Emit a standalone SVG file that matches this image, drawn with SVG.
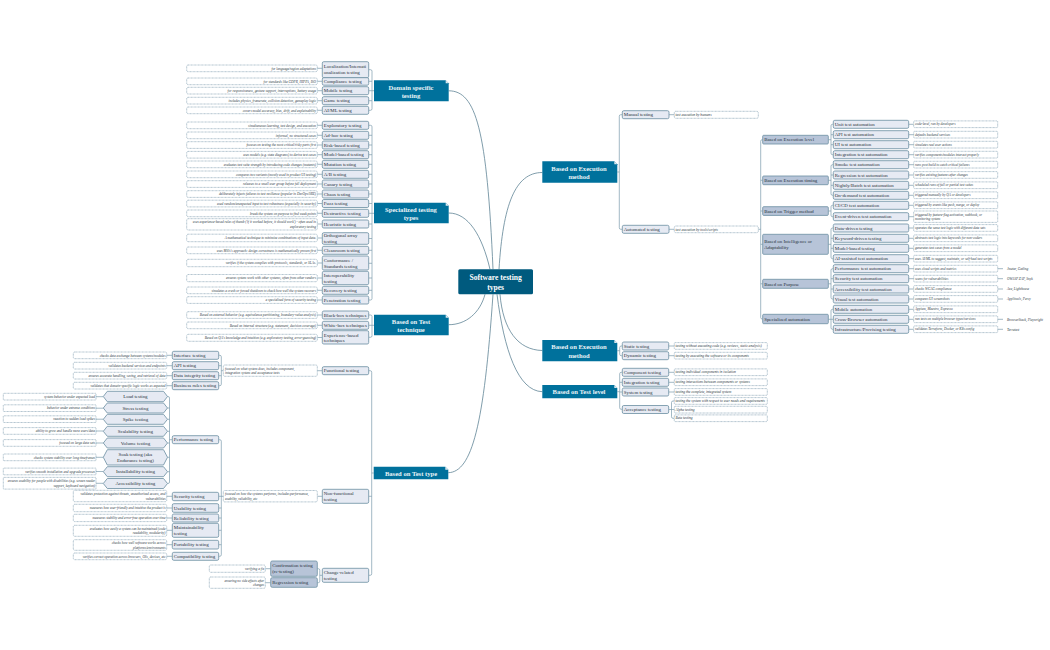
<svg xmlns="http://www.w3.org/2000/svg" width="1050" height="650" viewBox="0 0 1050 650">
<style>
text{font-family:"Liberation Serif","Times New Roman",serif;fill:#27323b}
.n{fill:#e6eaf3;stroke:#7393a7;stroke-width:.85}
.s{fill:#b7c4d8;stroke:#7393a7;stroke-width:.85}
.h{fill:#e6eaf3;stroke:#7393a7;stroke-width:.85}
.d{fill:#fff;stroke:#7393a7;stroke-width:.6;stroke-dasharray:.9 .5}
.t{font-size:4.9px}
.c{font-size:4.9px;text-anchor:middle}
.e{font-size:3.45px;font-style:italic;text-anchor:end;fill:#2d3943}
.l{font-size:3.45px;font-style:italic;fill:#2d3943}
.m{font-size:3.6px;font-style:italic;fill:#2d3943}
.o{fill:#00719c}
.f{fill:#dfeaf0}
.a{font-size:6.6px;font-weight:bold;text-anchor:middle;fill:#e8f3f7}
.r{font-size:7.6px;font-weight:bold;text-anchor:middle;fill:#fff}
#connectors path{fill:none;stroke:#7b9bac;stroke-width:.7}
#connectors .k{stroke:#5f8496;stroke-width:.8}
</style>
<g id="connectors">
<path class="k" d="M448.7 90.8C476 90.8 487 130 493 269.3"/>
<path class="k" d="M448.7 213C468 213 482 235 490 269.3"/>
<path class="k" d="M542.3 172.5C515 172.5 503 205 499 269.3"/>
<path class="k" d="M448.7 324.7C466 324.7 480 313 485 294.3"/>
<path class="k" d="M448.3 472.7C472 472 484 425 493 294.3"/>
<path class="k" d="M542.3 350.5C518 350 503 330 500 294.3"/>
<path class="k" d="M542.3 391.7C518 391 504 350 497 294.3"/>
<path d="M368.7 69.7H370.5Q372 69.7 372 71.2V108.8Q372 110.3 370.5 110.3H368.7M368.7 81.3H372M368.7 90.7H374M368.7 100.7H372"/>
<path d="M368.7 125.3H370.5Q372 125.3 372 126.8V298.5Q372 300 370.5 300H368.7M368.7 135.3H372M368.7 145H372M368.7 154.7H372M368.7 164.3H372M368.7 174.3H372M368.7 184H372M368.7 194H372M368.7 203.5H372M368.7 213.3H374M368.7 224H372M368.7 238.5H372M368.7 250.3H372M368.7 263.3H372M368.7 278H372M368.7 290.3H372"/>
<path d="M368.7 315H370.5Q372 315 372 316.5V335.8Q372 337.3 370.5 337.3H368.7M368.7 325.3H374"/>
<path d="M368.7 370.7H370.2Q371.7 370.7 371.7 372.2V573.8Q371.7 575.3 370.2 575.3H368.7M368.7 496.3H371.7M371.7 473H373.7"/>
<path d="M317.3 568.7H318.3Q319.8 568.7 319.8 570.2V581.2Q319.8 582.7 318.3 582.7H317.3M319.8 575.3H322.3"/>
<path d="M317.3 370.7H322.3M317.3 496.3H322.3M265.3 568.7H270.7M265.3 582.7H270.7"/>
<path d="M218.7 355.3H219.8Q221.3 355.3 221.3 356.8V384.2Q221.3 385.7 219.8 385.7H218.7M218.7 365.7H221.3M218.7 375.7H221.3M221.3 370.7H223.3"/>
<path d="M218.7 439.7H219.8Q221.3 439.7 221.3 441.2V554.8Q221.3 556.3 219.8 556.3H218.7M218.7 496.3H223.3M218.7 508H221.3M218.7 518H221.3M218.7 530.3H221.3M218.7 544.7H221.3"/>
<path d="M167.5 396.5H168Q169.5 396.5 169.5 398V482Q169.5 483.5 168 483.5H167.5M167.5 408H169.5M167.5 419.3H169.5M167.5 431.3H169.5M167.5 443H169.5M167.5 457.3H169.5M167.5 471.7H169.5M169.5 439.7H172.3"/>
<path d="M96 396.7H103.3M96 408.2H103.3M96 419.2H103.3M96 431H103.3M96 443H103.3M96 457.3H103.3M96 471.5H103.3M96 483.3H103.3"/>
<path d="M166.7 355.3H172.3M166.7 365.7H172.3M166.7 375.7H172.3M166.7 385.7H172.3M166.7 496.3H172.3M166.7 508H172.3M166.7 518H172.3M166.7 530.3H172.3M166.7 544.7H172.3M166.7 556.3H172.3"/>
<path d="M317.3 68.3H322.3M317.3 81.3H322.3M317.3 90.7H322.3M317.3 100.7H322.3M317.3 110.3H322.3M317.3 125.3H322.3M317.3 135.3H322.3M317.3 145H322.3M317.3 154.7H322.3M317.3 164.3H322.3M317.3 174.3H322.3M317.3 184H322.3M317.3 194H322.3M317.3 203.5H322.3M317.3 213.3H322.3M317.3 224H322.3M317.3 238H322.3M317.3 250.3H322.3M317.3 263H322.3M317.3 278H322.3M317.3 290.3H322.3M317.3 300H322.3M317.3 315H322.3M317.3 325.3H322.3M317.3 337.5H322.3"/>
<path d="M622.3 114.7H620.8Q619.3 114.7 619.3 116.2V227.8Q619.3 229.3 620.8 229.3H622.3M617.3 172H619.3M669 114.7H674.3M669 229.3H674.3"/>
<path d="M762.7 139.7H762.2Q760.7 139.7 760.7 141.2V317.5Q760.7 319 762.2 319H762.7M758.3 229.3H760.7M760.7 180.3H762.7M760.7 211H762.7M760.7 244.3H762.7M760.7 283.8H762.7"/>
<path d="M833.3 124.3H832.5Q831 124.3 831 125.8V153.2Q831 154.7 832.5 154.7H833.3M828.3 139.7H831M831 134.7H833.3M831 144.7H833.3"/>
<path d="M833.3 164.7H832.5Q831 164.7 831 166.2V193.8Q831 195.3 832.5 195.3H833.3M828.3 180.3H831M831 175H833.3M831 185.3H833.3"/>
<path d="M833.3 205.3H832.5Q831 205.3 831 206.8V215.2Q831 216.7 832.5 216.7H833.3M828.3 211H831"/>
<path d="M833.3 228H832.5Q831 228 831 229.5V257.2Q831 258.7 832.5 258.7H833.3M828.3 244.3H831M831 238.3H833.3M831 248.3H833.3"/>
<path d="M833.3 268.7H832.5Q831 268.7 831 270.2V297.5Q831 299 832.5 299H833.3M828.3 283.8H831M831 278.7H833.3M831 289H833.3"/>
<path d="M833.3 309.3H832.5Q831 309.3 831 310.8V327.8Q831 329.3 832.5 329.3H833.3M828.3 319.3H833.3"/>
<path d="M908.7 124.3H913.7M908.7 134.7H913.7M908.7 144.7H913.7M908.7 154.7H913.7M908.7 164.7H913.7M908.7 175H913.7M908.7 185.3H913.7M908.7 195.3H913.7M908.7 205.3H913.7M908.7 216.7H913.7M908.7 228H913.7M908.7 238.3H913.7M908.7 248.3H913.7M908.7 258.7H913.7M908.7 268.7H913.7M908.7 278.7H913.7M908.7 289H913.7M908.7 299H913.7M908.7 309.3H913.7M908.7 319.3H913.7M908.7 329.3H913.7"/>
<path d="M997.7 268.7H1003M997.7 278.7H1003M997.7 289H1003M997.7 299H1003M997.7 319.3H1003M997.7 329.3H1003"/>
<path d="M622.3 346H621.2Q619.7 346 619.7 347.5V354.2Q619.7 355.7 621.2 355.7H622.3M617.3 350.7H619.7"/>
<path d="M622.3 372.3H621.2Q619.7 372.3 619.7 373.8V407.8Q619.7 409.3 621.2 409.3H622.3M617.3 391.7H619.7M619.7 382.3H622.3M619.7 392H622.3"/>
<path d="M668.7 346H674.3M668.7 355.7H674.3M668.7 372.3H674.3M668.7 382.3H674.3M668.7 392H674.3"/>
<path d="M674.3 401H673Q671.5 401 671.5 402.5V416.8Q671.5 418.3 673 418.3H674.3M668.7 409.5H674.3"/>
</g>

<g id="root"><rect x="458.3" y="269.3" width="74.7" height="25" rx="1.5" fill="#005a7e"/><text class="r" x="495.6" y="280">Software testing</text><text class="r" x="495.6" y="289.5">types</text></g>

<g id="t-domain"><path class="o" d="M374 80.3H445.7L448.7 83.3V101.3H374Z"/><path class="f" d="M445.7 80.3L448.7 83.3H445.7Z"/><text class="a" x="411" y="89.5">Domain specific</text><text class="a" x="411" y="98">testing</text></g>
<g id="t-specialized"><path class="o" d="M374 202.7H445.7L448.7 205.7V223.3H374Z"/><path class="f" d="M445.7 202.7L448.7 205.7H445.7Z"/><text class="a" x="411" y="211.5">Specialized testing</text><text class="a" x="411" y="220">types</text></g>
<g id="t-technique"><path class="o" d="M374 314.7H445.7L448.7 317.7V335.3H374Z"/><path class="f" d="M445.7 314.7L448.7 317.7H445.7Z"/><text class="a" x="411" y="323.5">Based on Test</text><text class="a" x="411" y="332">technique</text></g>
<g id="t-type"><path class="o" d="M373.7 466.7H445.3L448.3 469.7V479.3H373.7Z"/><path class="f" d="M445.3 466.7L448.3 469.7H445.3Z"/><text class="a" x="411" y="475.5">Based on Test type</text></g>
<g id="t-exec1"><path class="o" d="M542.3 161.3H614.3L617.3 164.3V182.7H542.3Z"/><path class="f" d="M614.3 161.3L617.3 164.3H614.3Z"/><text class="a" x="579" y="170.5">Based on Execution</text><text class="a" x="579" y="179">method</text></g>
<g id="t-exec2"><path class="o" d="M542.3 340H614.3L617.3 343V361.3H542.3Z"/><path class="f" d="M614.3 340L617.3 343H614.3Z"/><text class="a" x="579" y="349">Based on Execution</text><text class="a" x="579" y="357.5">method</text></g>
<g id="t-level"><path class="o" d="M542.3 385H614.3L617.3 388V398.3H542.3Z"/><path class="f" d="M614.3 385L617.3 388H614.3Z"/><text class="a" x="579" y="394">Based on Test level</text></g>

<g id="domain-nodes">
<g id="n1"><rect class="n" x="322.3" y="61.7" width="46.4" height="16" rx="1.5"/><text class="t" x="323.8" y="67.5">Localization/Internati</text><text class="t" x="323.8" y="73.8">onalization testing</text><rect class="d" x="186.7" y="65" width="130.6" height="6.7" rx="1.5"/><text class="e" x="316" y="69.5">for language/region adaptations</text></g>
<g id="n2"><rect class="n" x="322.3" y="77.7" width="46.4" height="7.5" rx="1.5"/><text class="t" x="323.8" y="83">Compliance testing</text><rect class="d" x="186.7" y="78" width="130.6" height="6.7" rx="1.5"/><text class="e" x="316" y="82.5">for standards like GDPR, HIPPA, ISO</text></g>
<g id="n3"><rect class="n" x="322.3" y="86.7" width="46.4" height="8" rx="1.5"/><text class="t" x="323.8" y="92.4">Mobile testing</text><rect class="d" x="186.7" y="87.3" width="130.6" height="6.7" rx="1.5"/><text class="e" x="316" y="91.8">for responsiveness, gesture support, interruptions, battery usage</text></g>
<g id="n4"><rect class="n" x="322.3" y="96.7" width="46.4" height="8" rx="1.5"/><text class="t" x="323.8" y="102.4">Game testing</text><rect class="d" x="186.7" y="97.3" width="130.6" height="6.7" rx="1.5"/><text class="e" x="316" y="101.8">includes physics, framerate, collision detection, gameplay logic</text></g>
<g id="n5"><rect class="n" x="322.3" y="106.3" width="46.4" height="8" rx="1.5"/><text class="t" x="323.8" y="112">AI/ML testing</text><rect class="d" x="186.7" y="107" width="130.6" height="6.7" rx="1.5"/><text class="e" x="316" y="111.5">covers model accuracy, bias, drift, and explainability</text></g>
</g>

<g id="specialized-nodes">
<g id="n6"><rect class="n" x="322.3" y="121.3" width="46.4" height="8" rx="1.5"/><text class="t" x="323.8" y="127">Exploratory testing</text><rect class="d" x="186.7" y="122" width="130.6" height="6.7" rx="1.5"/><text class="e" x="316" y="126.5">simultaneous learning, test design, and execution</text></g>
<g id="n7"><rect class="n" x="322.3" y="131.3" width="46.4" height="8" rx="1.5"/><text class="t" x="323.8" y="137">Ad-hoc testing</text><rect class="d" x="186.7" y="132" width="130.6" height="6.7" rx="1.5"/><text class="e" x="316" y="136.5">informal, no structured cases</text></g>
<g id="n8"><rect class="n" x="322.3" y="141" width="46.4" height="8" rx="1.5"/><text class="t" x="323.8" y="146.7">Risk-based testing</text><rect class="d" x="186.7" y="141.7" width="130.6" height="6.7" rx="1.5"/><text class="e" x="316" y="146.2">focuses on testing the most critical/risky parts first</text></g>
<g id="n9"><rect class="n" x="322.3" y="150.7" width="46.4" height="8" rx="1.5"/><text class="t" x="323.8" y="156.4">Model-based testing</text><rect class="d" x="186.7" y="151.4" width="130.6" height="6.7" rx="1.5"/><text class="e" x="316" y="155.9">uses models (e.g. state diagrams) to derive test cases</text></g>
<g id="n10"><rect class="n" x="322.3" y="160.3" width="46.4" height="8" rx="1.5"/><text class="t" x="323.8" y="166">Mutation testing</text><rect class="d" x="186.7" y="161" width="130.6" height="6.7" rx="1.5"/><text class="e" x="316" y="165.5">evaluates test suite strength by introducing code changes (mutants)</text></g>
<g id="n11"><rect class="n" x="322.3" y="170.3" width="46.4" height="8" rx="1.5"/><text class="t" x="323.8" y="176">A/B testing</text><rect class="d" x="186.7" y="171" width="130.6" height="6.7" rx="1.5"/><text class="e" x="316" y="175.5">compares two variants (mostly used in product UI testing)</text></g>
<g id="n12"><rect class="n" x="322.3" y="180" width="46.4" height="8" rx="1.5"/><text class="t" x="323.8" y="185.7">Canary testing</text><rect class="d" x="186.7" y="180.7" width="130.6" height="6.7" rx="1.5"/><text class="e" x="316" y="185.2">releases to a small user group before full deployment</text></g>
<g id="n13"><rect class="n" x="322.3" y="190" width="46.4" height="8" rx="1.5"/><text class="t" x="323.8" y="195.7">Chaos testing</text><rect class="d" x="186.7" y="190.7" width="130.6" height="6.7" rx="1.5"/><text class="e" x="316" y="195.2">deliberately injects failures to test resilience (popular in DevOps/SRE)</text></g>
<g id="n14"><rect class="n" x="322.3" y="199.5" width="46.4" height="8" rx="1.5"/><text class="t" x="323.8" y="205.2">Fuzz testing</text><rect class="d" x="186.7" y="200.2" width="130.6" height="6.7" rx="1.5"/><text class="e" x="316" y="204.7">used random/unexpected input to test robustness (especially in security)</text></g>
<g id="n15"><rect class="n" x="322.3" y="209.3" width="46.4" height="8" rx="1.5"/><text class="t" x="323.8" y="215">Destructive testing</text><rect class="d" x="186.7" y="210" width="130.6" height="6.7" rx="1.5"/><text class="e" x="316" y="214.5">break the system on purpose to find weak points</text></g>
<g id="n16"><rect class="n" x="322.3" y="220" width="46.4" height="8" rx="1.5"/><text class="t" x="323.8" y="225.7">Heuristic testing</text><rect class="d" x="186.7" y="218.7" width="130.6" height="11.3" rx="1.5"/><text class="e" x="316" y="223.2">uses experience-based rules of thumb ('if it worked before, it should work') - often used in</text><text class="e" x="316" y="227.6">exploratory testing</text></g>
<g id="n17"><rect class="n" x="322.3" y="232.7" width="46.4" height="11.6" rx="1.5"/><text class="t" x="323.8" y="237">Orthogonal array</text><text class="t" x="323.8" y="242.5">testing</text><rect class="d" x="186.7" y="234.2" width="130.6" height="7.5" rx="1.5"/><text class="e" x="316" y="239.1">A mathematical technique to minimize combinations of input data.</text></g>
<g id="n18"><rect class="n" x="322.3" y="246.3" width="46.4" height="8" rx="1.5"/><text class="t" x="323.8" y="252">Cleanroom testing</text><rect class="d" x="186.7" y="247" width="130.6" height="6.7" rx="1.5"/><text class="e" x="316" y="251.5">uses Mills's approach: design correctness is mathematically proven first</text></g>
<g id="n19"><rect class="n" x="322.3" y="256" width="46.4" height="14" rx="1.5"/><text class="t" x="323.8" y="262">Conformance /</text><text class="t" x="323.8" y="267.8">Standards testing</text><rect class="d" x="186.7" y="259.3" width="130.6" height="7.4" rx="1.5"/><text class="e" x="316" y="264.1">verifies if the system complies with protocols, standards, or SLAs.</text></g>
<g id="n20"><rect class="n" x="322.3" y="271.3" width="46.4" height="13.4" rx="1.5"/><text class="t" x="323.8" y="277">Interoperability</text><text class="t" x="323.8" y="282.8">testing</text><rect class="d" x="186.7" y="274.5" width="130.6" height="7.2" rx="1.5"/><text class="e" x="316" y="279.2">ensures system work with other systems, often from other vendors</text></g>
<g id="n21"><rect class="n" x="322.3" y="286.3" width="46.4" height="8" rx="1.5"/><text class="t" x="323.8" y="292">Recovery testing</text><rect class="d" x="186.7" y="287" width="130.6" height="6.7" rx="1.5"/><text class="e" x="316" y="291.5">simulates a crash or forced shutdown to check how well the system recovers</text></g>
<g id="n22"><rect class="n" x="322.3" y="296" width="46.4" height="8" rx="1.5"/><text class="t" x="323.8" y="301.7">Penetration testing</text><rect class="d" x="186.7" y="296.7" width="130.6" height="6.7" rx="1.5"/><text class="e" x="316" y="301.2">a specialized form of security testing</text></g>
</g>

<g id="technique-nodes">
<g id="n23"><rect class="n" x="322.3" y="311" width="46.4" height="8" rx="1.5"/><text class="t" x="323.8" y="316.7">Black-box techniques</text><rect class="d" x="186.7" y="311.7" width="130.6" height="6.7" rx="1.5"/><text class="e" x="316" y="316.2">Based on external behavior (e.g. equivalence partitioning, boundary-value analysis)</text></g>
<g id="n24"><rect class="n" x="322.3" y="321.3" width="46.4" height="8" rx="1.5"/><text class="t" x="323.8" y="327">White-box techniques</text><rect class="d" x="186.7" y="322" width="130.6" height="6.7" rx="1.5"/><text class="e" x="316" y="326.5">Based on internal structure (e.g. statement, decision coverage)</text></g>
<g id="n25"><rect class="n" x="322.3" y="330.7" width="46.4" height="13.3" rx="1.5"/><text class="t" x="323.8" y="336.5">Experience-based</text><text class="t" x="323.8" y="342">techniques</text><rect class="d" x="186.7" y="334.3" width="130.6" height="7" rx="1.5"/><text class="e" x="316" y="339">Based on QA's knowledge and intuition (e.g. exploratory testing, error-guessing)</text></g>
</g>

<g id="functional-nodes">
<g id="n26"><rect class="n" x="322.3" y="366.7" width="46.4" height="8" rx="1.5"/><text class="t" x="323.8" y="372.4">Functional testing</text><rect class="d" x="223.3" y="365" width="94" height="11.3" rx="1.5"/><text class="l" x="225" y="369.8">focused on what system does, includes component,</text><text class="l" x="225" y="374.2">integration system and acceptance tests</text></g>
<g id="n27"><rect class="n" x="172.3" y="351.3" width="46.4" height="8" rx="1.5"/><text class="t" x="173.8" y="357">Interface testing</text><rect class="d" x="73.3" y="352" width="93.4" height="6.7" rx="1.5"/><text class="e" x="165.5" y="356.5">checks data exchange between systems/modules</text></g>
<g id="n28"><rect class="n" x="172.3" y="361.7" width="46.4" height="8" rx="1.5"/><text class="t" x="173.8" y="367.4">API testing</text><rect class="d" x="73.3" y="362.3" width="93.4" height="6.7" rx="1.5"/><text class="e" x="165.5" y="366.8">validates backend services and endpoints</text></g>
<g id="n29"><rect class="n" x="172.3" y="371.7" width="46.4" height="8" rx="1.5"/><text class="t" x="173.8" y="377.4">Data integrity testing</text><rect class="d" x="73.3" y="372.3" width="93.4" height="6.7" rx="1.5"/><text class="e" x="165.5" y="376.8">ensures accurate handling, saving, and retrieval of data</text></g>
<g id="n30"><rect class="n" x="172.3" y="381.7" width="46.4" height="8" rx="1.5"/><text class="t" x="173.8" y="387.4">Business rules testing</text><rect class="d" x="73.3" y="382.3" width="93.4" height="6.7" rx="1.5"/><text class="e" x="165.5" y="386.8">validates that domain-specific logic works as expected</text></g>
</g>

<g id="performance-nodes">
<g id="n31"><rect class="n" x="172.3" y="435.7" width="46.4" height="8" rx="1.5"/><text class="t" x="173.8" y="441.4">Performance testing</text></g>
<g id="h1"><path class="h" d="M107.3 391.3H163.5L167.5 396.5L163.5 401.7H107.3L103.3 396.5Z"/><text class="c" x="135.4" y="398">Load testing</text><rect class="d" x="3.3" y="393.3" width="92.7" height="6.7" rx=".6"/><text class="e" x="95" y="397.8">system behavior under expected load</text></g>
<g id="h2"><path class="h" d="M107.3 403H163.5L167.5 408L163.5 413H107.3L103.3 408Z"/><text class="c" x="135.4" y="409.6">Stress testing</text><rect class="d" x="3.3" y="404.8" width="92.7" height="6.7" rx=".6"/><text class="e" x="95" y="409.3">behavior under extreme conditions</text></g>
<g id="h3"><path class="h" d="M107.3 414.3H163.5L167.5 419.3L163.5 424.3H107.3L103.3 419.3Z"/><text class="c" x="135.4" y="420.9">Spike testing</text><rect class="d" x="3.3" y="415.8" width="92.7" height="6.7" rx=".6"/><text class="e" x="95" y="420.3">reaction to sudden load spikes</text></g>
<g id="h4"><path class="h" d="M107.3 426.3H163.5L167.5 431.3L163.5 436.3H107.3L103.3 431.3Z"/><text class="c" x="135.4" y="432.9">Scalability testing</text><rect class="d" x="3.3" y="427.6" width="92.7" height="6.7" rx=".6"/><text class="e" x="95" y="432.1">ability to grow and handle more users/data</text></g>
<g id="h5"><path class="h" d="M107.3 438H163.5L167.5 443L163.5 448H107.3L103.3 443Z"/><text class="c" x="135.4" y="444.6">Volume testing</text><rect class="d" x="3.3" y="439.6" width="92.7" height="6.7" rx=".6"/><text class="e" x="95" y="444.1">focused on large data sets</text></g>
<g id="h6"><path class="h" d="M107.3 449.7H163.5L167.5 457.3L163.5 465H107.3L103.3 457.3Z"/><text class="c" x="135.4" y="456">Soak testing (aka</text><text class="c" x="135.4" y="461.8">Endurance testing)</text><rect class="d" x="3.3" y="454" width="92.7" height="6.7" rx=".6"/><text class="e" x="95" y="458.5">checks system stability over long timeframes</text></g>
<g id="h7"><path class="h" d="M107.3 466.7H163.5L167.5 471.7L163.5 476.7H107.3L103.3 471.7Z"/><text class="c" x="135.4" y="473.3">Installability testing</text><rect class="d" x="3.3" y="468.1" width="92.7" height="6.7" rx=".6"/><text class="e" x="95" y="472.6">verifies smooth installation and upgrade processes</text></g>
<g id="h8"><path class="h" d="M107.3 478.5H163.5L167.5 483.5L163.5 488.5H107.3L103.3 483.5Z"/><text class="c" x="135.4" y="485.1">Accessibility testing</text><rect class="d" x="3.3" y="477.4" width="92.7" height="11.7" rx=".6"/><text class="e" x="95" y="482.3">ensures usability for people with disabilities (e.g. screen reader</text><text class="e" x="95" y="486.7">support, keyboard navigation)</text></g>
</g>

<g id="nonfunctional-nodes">
<g id="n32"><rect class="n" x="322.3" y="489.3" width="46.4" height="14" rx="1.5"/><text class="t" x="323.8" y="495.2">Non-functional</text><text class="t" x="323.8" y="501">testing</text><rect class="d" x="223.3" y="490.5" width="94" height="11.4" rx="1.5"/><text class="l" x="225" y="495.2">focused on how the systems performs, includes performance,</text><text class="l" x="225" y="499.6">usability, reliability, etc</text></g>
<g id="n33"><rect class="n" x="172.3" y="492.3" width="46.4" height="8.4" rx="1.5"/><text class="t" x="173.8" y="498">Security testing</text><rect class="d" x="73.3" y="490.3" width="93.4" height="11.4" rx="1.5"/><text class="e" x="165.5" y="495.2">validates protection against threats, unauthorized access, and</text><text class="e" x="165.5" y="499.6">vulnerabilities</text></g>
<g id="n34"><rect class="n" x="172.3" y="503.7" width="46.4" height="8.6" rx="1.5"/><text class="t" x="173.8" y="509.7">Usability testing</text><rect class="d" x="73.3" y="504.3" width="93.4" height="7.4" rx="1.5"/><text class="e" x="165.5" y="509.1">measures how user-friendly and intuitive the product is</text></g>
<g id="n35"><rect class="n" x="172.3" y="514" width="46.4" height="8" rx="1.5"/><text class="t" x="173.8" y="519.7">Reliability testing</text><rect class="d" x="73.3" y="514.3" width="93.4" height="7.3" rx="1.5"/><text class="e" x="165.5" y="519.1">measures stability and error-free operation over time</text></g>
<g id="n36"><rect class="n" x="172.3" y="523.3" width="46.4" height="14" rx="1.5"/><text class="t" x="173.8" y="529">Maintainability</text><text class="t" x="173.8" y="534.8">testing</text><rect class="d" x="73.3" y="525.3" width="93.4" height="11" rx="1.5"/><text class="e" x="165.5" y="530">evaluates how easily a system can be maintained (code</text><text class="e" x="165.5" y="534.3">readability, modularity)</text></g>
<g id="n37"><rect class="n" x="172.3" y="540.3" width="46.4" height="8.7" rx="1.5"/><text class="t" x="173.8" y="546.3">Portability testing</text><rect class="d" x="73.3" y="539.7" width="93.4" height="10.6" rx="1.5"/><text class="e" x="165.5" y="544.2">checks how well software works across</text><text class="e" x="165.5" y="548.5">platforms/environments</text></g>
<g id="n38"><rect class="n" x="172.3" y="552.3" width="46.4" height="8" rx="1.5"/><text class="t" x="173.8" y="558">Compatibility testing</text><rect class="d" x="73.3" y="553" width="93.4" height="6.7" rx="1.5"/><text class="e" x="165.5" y="557.5">verifies correct operation across browsers, OSs, devices, etc</text></g>
</g>

<g id="change-nodes">
<g id="n39"><rect class="n" x="322.3" y="568.3" width="46.4" height="14" rx="1.5"/><text class="t" x="323.8" y="574.2">Change-related</text><text class="t" x="323.8" y="580">testing</text></g>
<g id="n40"><rect class="s" x="270.7" y="561" width="46.6" height="15.3" rx="1.5"/><text class="t" x="272.2" y="567.3">Confirmation testing</text><text class="t" x="272.2" y="573.3">(re-testing)</text><rect class="d" x="209.3" y="565" width="56" height="7.3" rx="1.5"/><text class="e" x="264.2" y="569.8">verifying a fix</text></g>
<g id="n41"><rect class="s" x="270.7" y="577.7" width="46.6" height="9.6" rx="1.5"/><text class="t" x="272.2" y="584.2">Regression testing</text><rect class="d" x="209.3" y="577" width="56" height="11.3" rx="1.5"/><text class="e" x="264.2" y="581.8">ensuring no side effects after</text><text class="e" x="264.2" y="586.2">changes</text></g>
</g>

<g id="exec-nodes">
<g id="n42"><rect class="n" x="622.3" y="110.7" width="46.7" height="8" rx="1.5"/><text class="t" x="623.8" y="116.4">Manual testing</text><rect class="d" x="674.3" y="111.3" width="84" height="7" rx="1.5"/><text class="m" x="675.5" y="116">test execution by humans</text></g>
<g id="n43"><rect class="n" x="622.3" y="225.3" width="46.7" height="8" rx="1.5"/><text class="t" x="623.8" y="231">Automated testing</text><rect class="d" x="674.3" y="226" width="84" height="6.7" rx="1.5"/><text class="m" x="675.5" y="230.5">test execution by tools/scripts</text></g>
</g>

<g id="automation-groups">
<g id="s1"><rect class="s" x="762.7" y="135.3" width="65.6" height="8.7" rx="1"/><text class="t" x="764.2" y="141.3">Based on Execution level</text></g>
<g id="s2"><rect class="s" x="762.7" y="176" width="65.6" height="8.7" rx="1"/><text class="t" x="764.2" y="182">Based on Execution timing</text></g>
<g id="s3"><rect class="s" x="762.7" y="206.7" width="65.6" height="8.7" rx="1"/><text class="t" x="764.2" y="212.7">Based on Trigger method</text></g>
<g id="s4"><rect class="s" x="762.7" y="234.3" width="65.6" height="20" rx="1"/><text class="t" x="764.2" y="242.5">Based on Intelligence or</text><text class="t" x="764.2" y="248.8">Adaptability</text></g>
<g id="s5"><rect class="s" x="762.7" y="279.3" width="65.6" height="9" rx="1"/><text class="t" x="764.2" y="285.5">Based on Purpose</text></g>
<g id="s6"><rect class="s" x="762.7" y="314.3" width="65.6" height="9.4" rx="1"/><text class="t" x="764.2" y="320.7">Specialized automation</text></g>
</g>

<g id="automation-leaves">
<g id="a1"><rect class="n" x="833.3" y="120.3" width="75.4" height="8" rx="1.5"/><text class="t" x="834.8" y="126">Unit test automation</text><rect class="d" x="913.7" y="120.9" width="84" height="6.7" rx="1"/><text class="l" x="915" y="125.4">code-level, run by developers</text></g>
<g id="a2"><rect class="n" x="833.3" y="130.7" width="75.4" height="8" rx="1.5"/><text class="t" x="834.8" y="136.4">API test automation</text><rect class="d" x="913.7" y="131.3" width="84" height="6.7" rx="1"/><text class="l" x="915" y="135.8">defaults backend services</text></g>
<g id="a3"><rect class="n" x="833.3" y="140.7" width="75.4" height="8" rx="1.5"/><text class="t" x="834.8" y="146.4">UI test automation</text><rect class="d" x="913.7" y="141.3" width="84" height="6.7" rx="1"/><text class="l" x="915" y="145.8">simulates real user actions</text></g>
<g id="a4"><rect class="n" x="833.3" y="150.7" width="75.4" height="8" rx="1.5"/><text class="t" x="834.8" y="156.4">Integration test automation</text><rect class="d" x="913.7" y="151.3" width="84" height="6.7" rx="1"/><text class="l" x="915" y="155.8">verifies components/modules interact properly</text></g>
<g id="a5"><rect class="n" x="833.3" y="160.7" width="75.4" height="8" rx="1.5"/><text class="t" x="834.8" y="166.4">Smoke test automation</text><rect class="d" x="913.7" y="161.3" width="84" height="6.7" rx="1"/><text class="l" x="915" y="165.8">runs post build to catch critical failures</text></g>
<g id="a6"><rect class="n" x="833.3" y="171" width="75.4" height="8" rx="1.5"/><text class="t" x="834.8" y="176.7">Regression test automation</text><rect class="d" x="913.7" y="171.6" width="84" height="6.7" rx="1"/><text class="l" x="915" y="176.1">verifies existing features after changes</text></g>
<g id="a7"><rect class="n" x="833.3" y="181.3" width="75.4" height="8" rx="1.5"/><text class="t" x="834.8" y="187">Nightly/Batch test automation</text><rect class="d" x="913.7" y="181.9" width="84" height="6.7" rx="1"/><text class="l" x="915" y="186.4">scheduled runs of full or partial test suites</text></g>
<g id="a8"><rect class="n" x="833.3" y="191.3" width="75.4" height="8" rx="1.5"/><text class="t" x="834.8" y="197">On-demand test automation</text><rect class="d" x="913.7" y="191.9" width="84" height="6.7" rx="1"/><text class="l" x="915" y="196.4">triggered manually by QA or developers</text></g>
<g id="a9"><rect class="n" x="833.3" y="201.3" width="75.4" height="8" rx="1.5"/><text class="t" x="834.8" y="207">CI/CD test automation</text><rect class="d" x="913.7" y="201.9" width="84" height="6.7" rx="1"/><text class="l" x="915" y="206.4">triggered by events like push, merge, or deploy</text></g>
<g id="a10"><rect class="n" x="833.3" y="212.7" width="75.4" height="8" rx="1.5"/><text class="t" x="834.8" y="218.4">Event-driven test automation</text><rect class="d" x="913.7" y="211" width="84" height="11.4" rx="1"/><text class="l" x="915" y="215.6">triggered by feature-flag activation, webhook, or</text><text class="l" x="915" y="220">monitoring system</text></g>
<g id="a11"><rect class="n" x="833.3" y="224" width="75.4" height="8" rx="1.5"/><text class="t" x="834.8" y="229.7">Data-driven testing</text><rect class="d" x="913.7" y="224.6" width="84" height="6.7" rx="1"/><text class="l" x="915" y="229.1">operates the same test logic with different data sets</text></g>
<g id="a12"><rect class="n" x="833.3" y="234.3" width="75.4" height="8" rx="1.5"/><text class="t" x="834.8" y="240">Keyword-driven testing</text><rect class="d" x="913.7" y="234.9" width="84" height="6.7" rx="1"/><text class="l" x="915" y="239.4">abstracts test logic into keywords for non-coders</text></g>
<g id="a13"><rect class="n" x="833.3" y="244.3" width="75.4" height="8" rx="1.5"/><text class="t" x="834.8" y="250">Model-based testing</text><rect class="d" x="913.7" y="244.9" width="84" height="6.7" rx="1"/><text class="l" x="915" y="249.4">generates test cases from a model</text></g>
<g id="a14"><rect class="n" x="833.3" y="254.7" width="75.4" height="8" rx="1.5"/><text class="t" x="834.8" y="260.4">AI-assisted test automation</text><rect class="d" x="913.7" y="255.3" width="84" height="6.7" rx="1"/><text class="l" x="915" y="259.8">uses AI/ML to suggest, maintain, or self-heal test scripts</text></g>
<g id="a15"><rect class="n" x="833.3" y="264.7" width="75.4" height="8" rx="1.5"/><text class="t" x="834.8" y="270.4">Performance test automation</text><rect class="d" x="913.7" y="265.3" width="84" height="6.7" rx="1"/><text class="l" x="915" y="269.8">uses cloud scripts and metrics</text><text class="l" x="1007" y="270">Jmeter, Gatling</text></g>
<g id="a16"><rect class="n" x="833.3" y="274.7" width="75.4" height="8" rx="1.5"/><text class="t" x="834.8" y="280.4">Security test automation</text><rect class="d" x="913.7" y="275.3" width="84" height="6.7" rx="1"/><text class="l" x="915" y="279.8">scans for vulnerabilities</text><text class="l" x="1007" y="280">OWASP ZAP, Snyk</text></g>
<g id="a17"><rect class="n" x="833.3" y="285" width="75.4" height="8" rx="1.5"/><text class="t" x="834.8" y="290.7">Accessibility test automation</text><rect class="d" x="913.7" y="285.6" width="84" height="6.7" rx="1"/><text class="l" x="915" y="290.1">checks WCAG compliance</text><text class="l" x="1007" y="290.3">Axe, Lighthouse</text></g>
<g id="a18"><rect class="n" x="833.3" y="295" width="75.4" height="8" rx="1.5"/><text class="t" x="834.8" y="300.7">Visual test automation</text><rect class="d" x="913.7" y="295.6" width="84" height="6.7" rx="1"/><text class="l" x="915" y="300.1">compares UI screenshots</text><text class="l" x="1007" y="300.3">Applitools, Percy</text></g>
<g id="a19"><rect class="n" x="833.3" y="305.3" width="75.4" height="8" rx="1.5"/><text class="t" x="834.8" y="311">Mobile automation</text><rect class="d" x="913.7" y="305.9" width="84" height="6.7" rx="1"/><text class="l" x="915" y="310.4">Appium, Maestro, Espresso</text></g>
<g id="a20"><rect class="n" x="833.3" y="315.3" width="75.4" height="8" rx="1.5"/><text class="t" x="834.8" y="321">Cross-Browser automation</text><rect class="d" x="913.7" y="315.9" width="84" height="6.7" rx="1"/><text class="l" x="915" y="320.4">run tests on multiple browser types/versions</text><text class="l" x="1007" y="320.6">BrowserStack, Playwright</text></g>
<g id="a21"><rect class="n" x="833.3" y="325.3" width="75.4" height="8" rx="1.5"/><text class="t" x="834.8" y="331">Infrastructure/Provising testing</text><rect class="d" x="913.7" y="325.9" width="84" height="6.7" rx="1"/><text class="l" x="915" y="330.4">validates Terraform, Docker, or K8s config</text><text class="l" x="1007" y="330.6">Terratest</text></g>
</g>

<g id="level-nodes">
<g id="b1"><rect class="n" x="622.3" y="342" width="46.4" height="8" rx="1.5"/><text class="t" x="623.8" y="347.7">Static testing</text><rect class="d" x="674.3" y="342.6" width="93" height="6.7" rx="1"/><text class="m" x="675.5" y="347.1">testing without executing code (e.g. reviews, static analysis)</text></g>
<g id="b2"><rect class="n" x="622.3" y="351.7" width="46.4" height="8" rx="1.5"/><text class="t" x="623.8" y="357.4">Dynamic testing</text><rect class="d" x="674.3" y="352.3" width="93" height="6.7" rx="1"/><text class="m" x="675.5" y="356.8">testing by executing the software or its components</text></g>
<g id="b3"><rect class="n" x="622.3" y="368.3" width="46.4" height="8" rx="1.5"/><text class="t" x="623.8" y="374">Component testing</text><rect class="d" x="674.3" y="368.9" width="93" height="6.7" rx="1"/><text class="m" x="675.5" y="373.4">testing individual components in isolation</text></g>
<g id="b4"><rect class="n" x="622.3" y="378.3" width="46.4" height="8" rx="1.5"/><text class="t" x="623.8" y="384">Integration testing</text><rect class="d" x="674.3" y="378.9" width="93" height="6.7" rx="1"/><text class="m" x="675.5" y="383.4">testing interactions between components or systems</text></g>
<g id="b5"><rect class="n" x="622.3" y="388" width="46.4" height="8" rx="1.5"/><text class="t" x="623.8" y="393.7">System testing</text><rect class="d" x="674.3" y="388.6" width="93" height="6.7" rx="1"/><text class="m" x="675.5" y="393.1">testing the complete, integrated system</text></g>
<g id="b6"><rect class="n" x="622.3" y="405.5" width="46.4" height="8" rx="1.5"/><text class="t" x="623.8" y="411.2">Acceptance testing</text><rect class="d" x="674.3" y="397.6" width="93" height="6.7" rx="1"/><text class="m" x="675.5" y="402.1">testing the system with respect to user needs and requirements</text><rect class="d" x="674.3" y="406.3" width="93" height="6.7" rx="1"/><text class="m" x="675.5" y="410.8">Alpha testing</text><rect class="d" x="674.3" y="414.9" width="93" height="6.7" rx="1"/><text class="m" x="675.5" y="419.4">Beta testing</text></g>
</g>
</svg>
